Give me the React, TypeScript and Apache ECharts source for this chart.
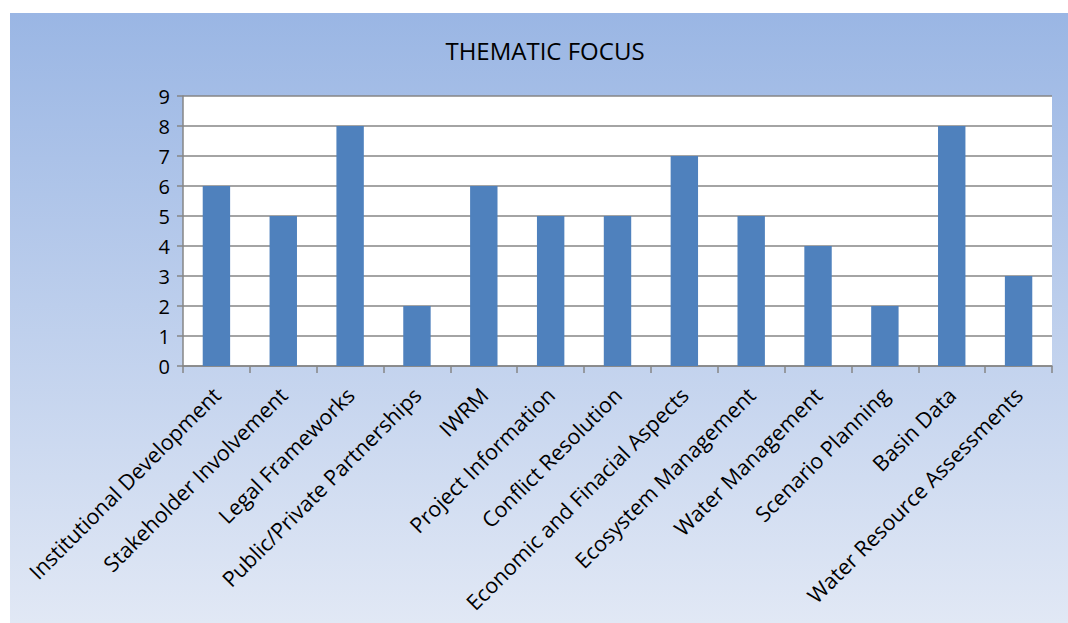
import React, { useEffect, useRef } from "react";
import * as echarts from "echarts";

const categories = [
  "Institutional Development",
  "Stakeholder Involvement",
  "Legal Frameworks",
  "Public/Private Partnerships",
  "IWRM",
  "Project Information",
  "Conflict Resolution",
  "Economic and Finacial Aspects",
  "Ecosystem Management",
  "Water Management",
  "Scenario Planning",
  "Basin Data",
  "Water Resource Assessments",
];
const values = [6, 5, 8, 2, 6, 5, 5, 7, 5, 4, 2, 8, 3];
const titleText = "THEMATIC FOCUS";

export default function App() {
  const ref = useRef<HTMLDivElement>(null);
  useEffect(() => {
    if (!ref.current) return;
    const chart = echarts.init(ref.current, null, { renderer: "svg" });
    const font = "'Open Sans', Lato, sans-serif";
    chart.setOption({
      animation: false,
      graphic: [
        {
          type: "rect",
          z: -10,
          silent: true,
          shape: { x: 10, y: 13, width: 1058, height: 610 },
          style: {
            fill: new echarts.graphic.LinearGradient(0, 0, 0, 1, [
              { offset: 0, color: "#9ab6e4" },
              { offset: 1, color: "#e1e8f5" },
            ]),
          },
        },
      ],
      title: {
        text: titleText,
        left: 540,
        top: 33,
        textAlign: "center",
        textStyle: { fontFamily: font, fontSize: 24, fontWeight: "normal", color: "#000" },
      },
      grid: {
        left: 183,
        top: 96,
        right: 16,
        bottom: 257,
        show: true,
        backgroundColor: "#ffffff",
        borderWidth: 0,
      },
      xAxis: {
        type: "category",
        data: categories,
        axisLine: { lineStyle: { color: "#868686", width: 1.5 } },
        axisTick: { show: true, alignWithLabel: false, length: 7, lineStyle: { color: "#868686", width: 1.5 } },
        axisLabel: {
          interval: 0,
          rotate: 45,
          margin: 25,
          fontFamily: font,
          fontSize: 21.5,
          color: "#000",
        },
      },
      yAxis: {
        type: "value",
        min: 0,
        max: 9,
        interval: 1,
        axisLine: { show: true, lineStyle: { color: "#868686", width: 1.5 } },
        axisTick: { show: true, length: 6, lineStyle: { color: "#868686", width: 1.5 } },
        splitLine: { show: true, lineStyle: { color: "#868686", width: 1.5 } },
        axisLabel: { fontFamily: font, fontSize: 20, color: "#000", margin: 13 },
      },
      series: [
        {
          type: "bar",
          data: values,
          barWidth: "41%",
          itemStyle: { color: "#4f81bd" },
        },
      ],
    });
    return () => chart.dispose();
  }, []);
  return (
    <div
      ref={ref}
      style={{ position: "fixed", left: 0, top: 0, width: 1068, height: 623, background: "#ffffff" }}
    />
  );
}
